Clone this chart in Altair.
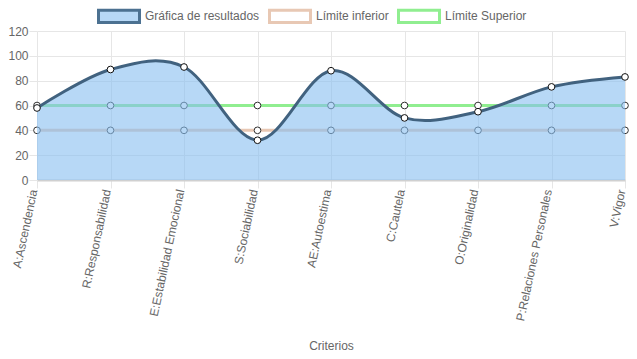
import altair as alt
import pandas as pd

categories = ["A:Ascendencia", "R:Responsabilidad", "E:Estabilidad Emocional",
              "S:Sociabilidad", "AE:Autoestima", "C:Cautela", "O:Originalidad",
              "P:Relaciones Personales", "V:Vigor"]
resultados = [58, 89, 91, 32, 88, 50, 55, 75, 83]
limite_inferior = [40, 40, 40, 40, 40, 40, 40, 40, 40]
limite_superior = [60, 60, 60, 60, 60, 60, 60, 60, 60]
series = ["Gráfica de resultados", "Límite inferior", "Límite Superior"]

rows = []
for name, vals in zip(series, [resultados, limite_inferior, limite_superior]):
    for c, v in zip(categories, vals):
        rows.append({"criterio": c, "valor": v, "serie": name})
df = pd.DataFrame(rows)
legend_df = pd.DataFrame({"criterio": [categories[0]] * 3, "valor": [-50] * 3, "serie": series})

FONT = "Liberation Sans"
GRID = "#e6e6e6"
TXT = "#666666"

x_enc = alt.X("criterio:N", sort=categories, scale=alt.Scale(type="point", padding=0),
              axis=alt.Axis(title="Criterios", labelAngle=282, labelFontSize=12, labelColor=TXT,
                            labelFont=FONT, labelPadding=2, labelBaseline="alphabetic",
                            tickSize=8, tickColor=GRID,
                            grid=True, gridColor=GRID, domainColor="#d0d0d0", domainWidth=2,
                            titleFont=FONT, titleFontSize=12, titleColor=TXT, titleFontWeight="normal",
                            titleY=169, titleBaseline="alphabetic", labelLimit=300))
y_enc = alt.Y("valor:Q", scale=alt.Scale(domain=[0, 120], nice=False),
              axis=alt.Axis(title=None, values=[0, 20, 40, 60, 80, 100, 120], labelFontSize=12,
                            labelColor=TXT, labelFont=FONT, tickSize=8, tickColor=GRID,
                            gridColor=GRID, domain=False, labelPadding=1))

base = alt.Chart(df)

inf_line = base.transform_filter(alt.datum.serie == series[1]).mark_line(
    stroke="#e8c8b4", strokeWidth=3).encode(x=x_enc, y=y_enc)
sup_line = base.transform_filter(alt.datum.serie == series[2]).mark_line(
    stroke="#90ee90", strokeWidth=3).encode(x=x_enc, y=y_enc)
lim_pts = base.transform_filter(alt.datum.serie != series[0]).mark_point(
    filled=True, fill="white", stroke="#333333", strokeWidth=1, size=45, opacity=1).encode(x=x_enc, y=y_enc)

res = base.transform_filter(alt.datum.serie == series[0])
area = res.mark_area(interpolate="cardinal", fill="#87bef0", fillOpacity=0.6).encode(x=x_enc, y=y_enc)
line = res.mark_line(interpolate="cardinal", stroke="#41627f", strokeWidth=3).encode(x=x_enc, y=y_enc)
pts = res.mark_point(filled=True, fill="white", stroke="#111111", strokeWidth=1, size=45,
                     opacity=1).encode(x=x_enc, y=y_enc)

box = "M-1,-0.3H1V0.3H-1Z"
leg = alt.Legend(title=None, orient="none", legendX=60, legendY=-37, direction="horizontal",
                 symbolType=box, symbolSize=1681, symbolStrokeWidth=3, labelFontSize=12,
                 labelColor=TXT, labelFont=FONT, columnPadding=3, labelOffset=4, padding=0)
dummy = alt.Chart(legend_df).mark_point(shape=box, filled=True, size=1681, strokeWidth=3,
                                        clip=True, opacity=1).encode(
    x=x_enc, y=y_enc,
    fill=alt.Fill("serie:N", scale=alt.Scale(domain=series, range=["#b7d8f6", "#ffffff", "#ffffff"]), legend=leg),
    stroke=alt.Stroke("serie:N", scale=alt.Scale(domain=series, range=["#4c7191", "#e8c8b4", "#90ee90"]), legend=leg),
)

chart = alt.layer(inf_line, sup_line, lim_pts, area, line, pts, dummy).properties(
    width=588, height=149,
    autosize=alt.AutoSizeParams(type="none"),
    padding={"left": 29, "top": 23, "right": 4, "bottom": 171},
).configure_view(stroke=None)

chart.save("out.html", embed_options={"renderer": "svg", "actions": False})
